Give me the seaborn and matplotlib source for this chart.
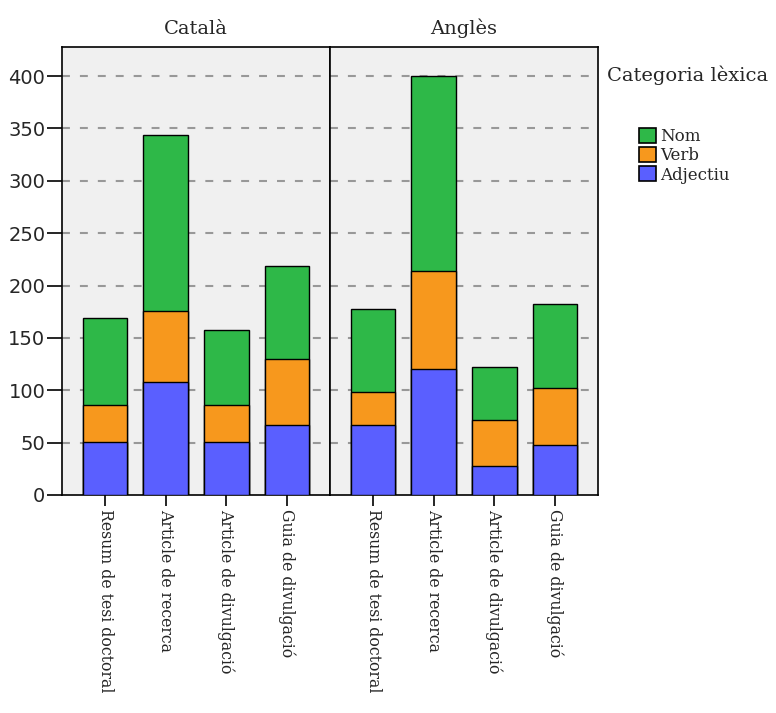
import matplotlib
matplotlib.use("Agg")
import matplotlib.pyplot as plt
import seaborn as sns
import pandas as pd
from matplotlib.patches import Patch

languages = ["Català", "Anglès"]
genres = ["Resum de tesi doctoral", "Article de recerca", "Article de divulgació", "Guia de divulgació"]
categories = ["Nom", "Verb", "Adjectiu"]
# values per language, per genre
adjectiu = {"Català": [51, 108, 51, 67], "Anglès": [67, 120, 28, 48]}
verb = {"Català": [35, 68, 35, 63], "Anglès": [31, 94, 44, 54]}
nom = {"Català": [83, 168, 72, 89], "Anglès": [80, 186, 50, 80]}
colors = {"Nom": "#2EB848", "Verb": "#F7981D", "Adjectiu": "#5A5FFF"}
yticks = [0, 50, 100, 150, 200, 250, 300, 350, 400]

sns.set_theme(style="white")
plt.rcParams["font.family"] = ["DejaVu Serif"]

rows = []
for lang in languages:
    for i, g in enumerate(genres):
        a = adjectiu[lang][i]
        v = verb[lang][i]
        n = nom[lang][i]
        rows.append(dict(lang=lang, genre=g, cat="Nom", cum=a + v + n))
        rows.append(dict(lang=lang, genre=g, cat="Verb", cum=a + v))
        rows.append(dict(lang=lang, genre=g, cat="Adjectiu", cum=a))
df = pd.DataFrame(rows)

fig = plt.figure(figsize=(7.76, 7.13), dpi=100)
W, H = 776, 713
axes = []
for k, lang in enumerate(languages):
    x0 = 62 + k * 268
    ax = fig.add_axes([x0 / W, (H - 495) / H, 268 / W, 448 / H])
    ax.set_facecolor("#F0F0F0")
    for cat in ["Nom", "Verb", "Adjectiu"]:
        sub = df[(df.lang == lang) & (df.cat == cat)]
        sns.barplot(data=sub, x="genre", y="cum", order=genres, color=colors[cat],
                    saturation=1, width=0.74, edgecolor="black", linewidth=1.0,
                    ax=ax, zorder=3)
    ax.set_xlim(-0.71, 3.71)
    ax.set_ylim(0, 427.7)
    ax.set_yticks(yticks)
    for y in yticks[1:]:
        ax.axhline(y, color="#989898", linestyle=(0, (3.8, 4.8)), linewidth=1.5, zorder=1)
    ax.set_xlabel("")
    ax.set_ylabel("")
    ax.set_xticks(range(len(genres)))
    ax.set_xticklabels(genres, rotation=270, fontsize=11.3, va="top", ha="center")
    ax.tick_params(axis="x", direction="out", length=8, width=1.2, color="black", pad=2, bottom=True)
    if k == 0:
        ax.set_yticklabels([str(t) for t in yticks], fontsize=14, family=["DejaVu Sans"])
        ax.tick_params(axis="y", direction="out", length=10.5, width=1.2, color="black", pad=1.5, left=True)
    else:
        ax.set_yticklabels([])
        ax.tick_params(axis="y", left=False)
    for s in ax.spines.values():
        s.set_color("black")
        s.set_linewidth(1.2)
    ax.set_title(lang, fontsize=14, pad=9)
    axes.append(ax)

fig.text(607 / W, 1 - 75 / H, "Categoria lèxica", fontsize=14, va="center", ha="left")
handles = [Patch(facecolor=colors[c], edgecolor="black", linewidth=1.2) for c in categories]
fig.legend(handles, categories, loc="upper left", bbox_to_anchor=(639 / W, 1 - 128 / H),
           frameon=False, fontsize=12, handlelength=1.0, handleheight=1.0,
           handletextpad=0.25, labelspacing=0.12, borderpad=0, borderaxespad=0)

fig.savefig("out.png", dpi=100)
